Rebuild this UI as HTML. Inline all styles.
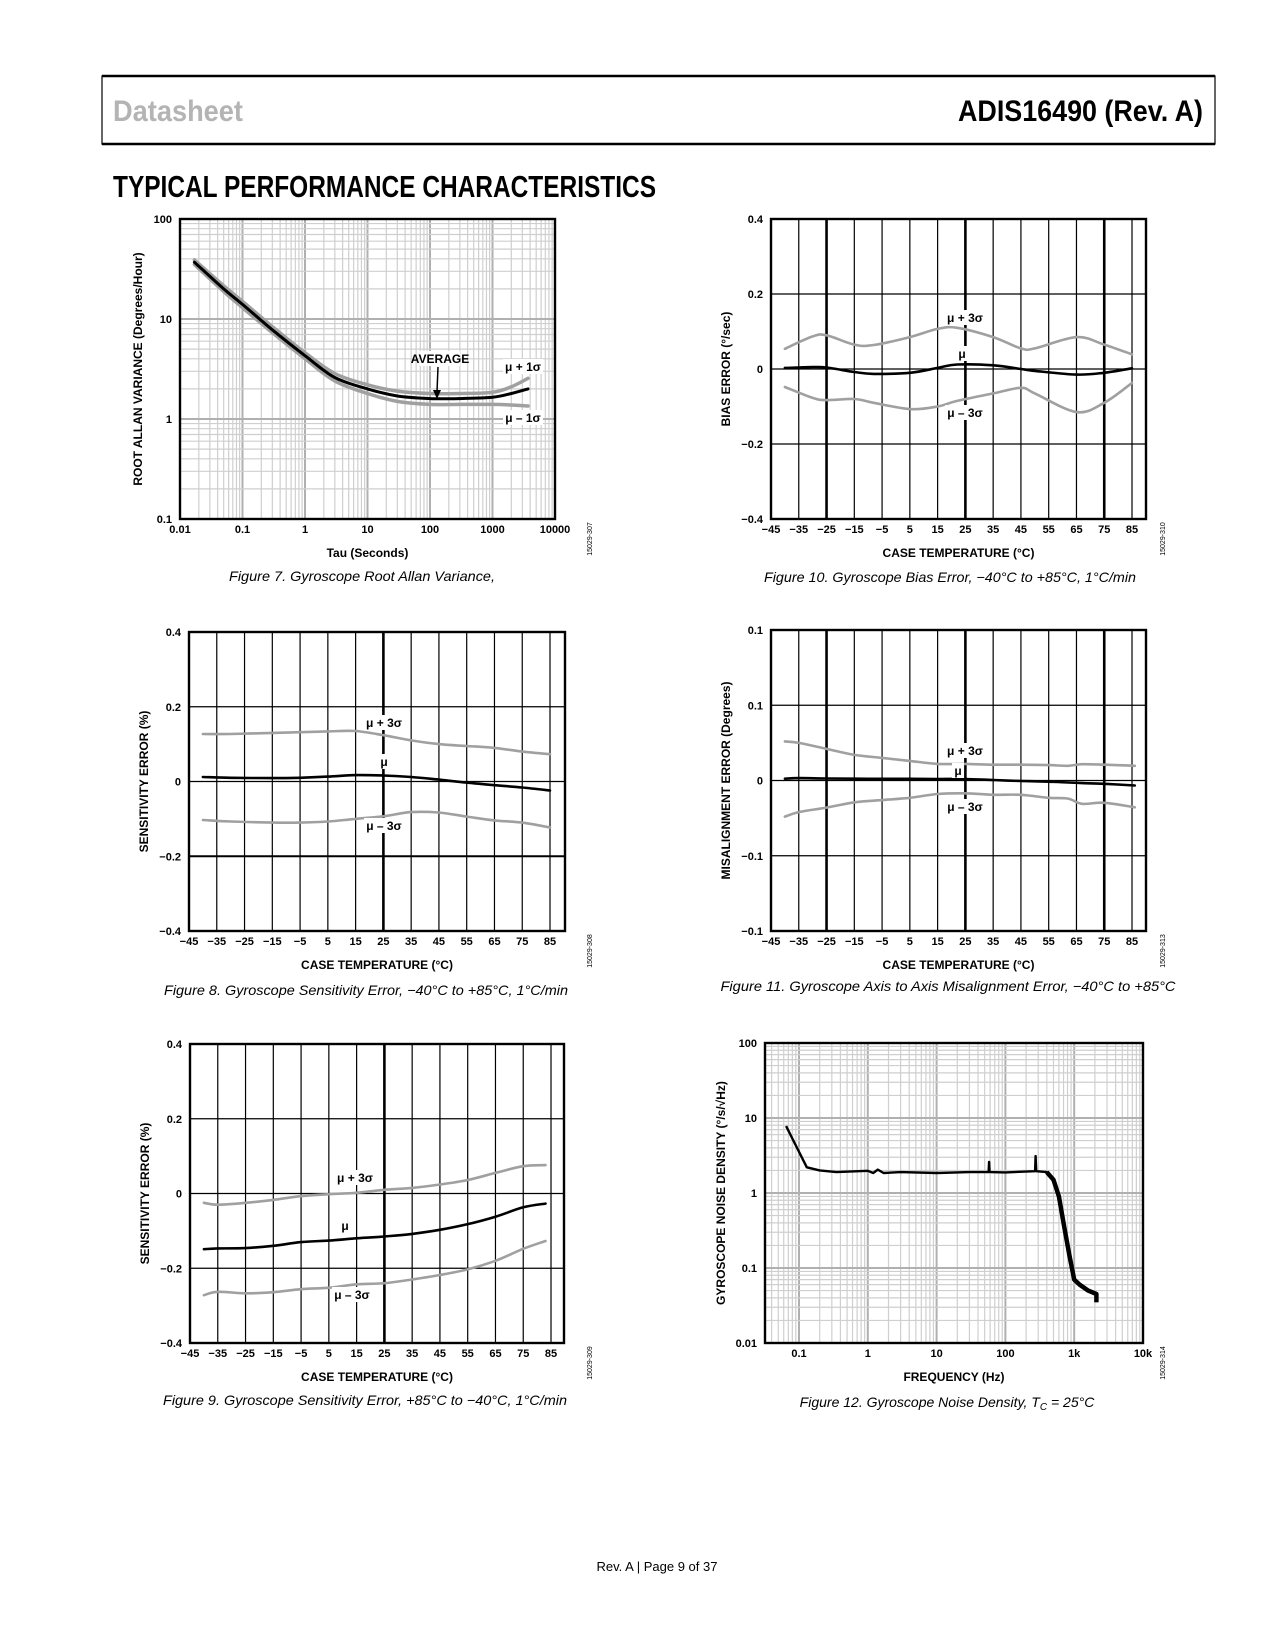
<!DOCTYPE html>
<html><head><meta charset="utf-8"><title>ADIS16490 Typical Performance Characteristics</title>
<style>
html,body{margin:0;padding:0;background:#fff;}
svg{display:block;}
text{font-family:"Liberation Sans",sans-serif;}
.tk{font-size:11px;font-weight:bold;fill:#000;}
.ax{font-size:12px;font-weight:bold;fill:#000;}
.cap{font-size:14px;font-style:italic;fill:#000;}
.lbl{font-size:12px;font-weight:bold;fill:#000;}
.id{font-size:7px;fill:#000;}
</style></head>
<body>
<svg id="page" xmlns="http://www.w3.org/2000/svg" width="1275" height="1650" viewBox="0 0 1275 1650">
<rect x="0" y="0" width="1275" height="1650" fill="#fff"/>
<g>
<rect x="102" y="76" width="1113" height="68" fill="none" stroke="#000" stroke-width="1.2"/>
<line x1="102" y1="76" x2="1215" y2="76" stroke="#000" stroke-width="2.5"/>
<line x1="102" y1="144" x2="1215" y2="144" stroke="#000" stroke-width="2.5"/>
<text x="113" y="121" font-family="'Liberation Sans Narrow','Liberation Sans',sans-serif" font-weight="bold" font-size="30" fill="#b4b4b4" textLength="130" lengthAdjust="spacingAndGlyphs">Datasheet</text>
<text x="1203" y="121" text-anchor="end" font-family="'Liberation Sans Narrow','Liberation Sans',sans-serif" font-weight="bold" font-size="30" fill="#000" textLength="245" lengthAdjust="spacingAndGlyphs">ADIS16490 (Rev. A)</text>
</g>
<text x="113" y="197" font-family="'Liberation Sans Narrow','Liberation Sans',sans-serif" font-weight="bold" font-size="31" fill="#000" textLength="543" lengthAdjust="spacingAndGlyphs">TYPICAL PERFORMANCE CHARACTERISTICS</text>
<text x="657" y="1571" text-anchor="middle" font-size="13" fill="#000">Rev. A | Page 9 of 37</text>
</svg>
<script>
// ---------- Figure 7 data (Root Allan variance) ----------
const f7Tau = [0.017, 0.05, 0.1, 0.3, 1, 3, 10, 30, 100, 300, 1000, 2000, 3700];
const f7Avg = [37, 20, 14, 7.8, 4.3, 2.6, 2.0, 1.7, 1.6, 1.6, 1.65, 1.8, 2.0];
const f7Plus = [39, 21.5, 15, 8.4, 4.6, 2.85, 2.2, 1.9, 1.8, 1.8, 1.85, 2.1, 2.55];
const f7Minus = [35, 18.8, 13, 7.3, 4.0, 2.4, 1.8, 1.5, 1.4, 1.4, 1.4, 1.38, 1.35];
const f7XTicks = ["0.01","0.1","1","10","100","1000","10000"];
const f7YTicks = ["0.1","1","10","100"];
// ---------- Figure 8 data ----------
const f8T = [-40,-30,-15,-5,5,15,25,35,45,55,65,75,85];
const f8Plus = [0.127,0.127,0.13,0.132,0.134,0.135,0.124,0.11,0.1,0.095,0.09,0.08,0.073];
const f8Mu = [0.012,0.01,0.009,0.01,0.013,0.017,0.016,0.012,0.005,-0.003,-0.01,-0.016,-0.024];
const f8Minus = [-0.103,-0.107,-0.11,-0.11,-0.107,-0.1,-0.093,-0.082,-0.083,-0.094,-0.104,-0.11,-0.123];
// ---------- Figure 9 data ----------
const f9T = [-40,-35,-25,-15,-5,5,15,25,35,45,55,65,75,83];
const f9Plus = [-0.025,-0.03,-0.025,-0.017,-0.007,-0.002,0.002,0.01,0.015,0.024,0.036,0.055,0.073,0.076];
const f9Mu = [-0.149,-0.147,-0.146,-0.14,-0.13,-0.126,-0.12,-0.115,-0.108,-0.097,-0.082,-0.062,-0.037,-0.027];
const f9Minus = [-0.272,-0.263,-0.267,-0.264,-0.256,-0.252,-0.243,-0.24,-0.23,-0.218,-0.203,-0.18,-0.148,-0.127];
// ---------- Figure 10 data ----------
const f10T = [-40,-30,-25,-15,-8,5,15,22,35,45,50,65,75,85];
const f10Plus = [0.054,0.087,0.09,0.065,0.064,0.085,0.107,0.11,0.085,0.055,0.055,0.085,0.065,0.039];
const f10Mu = [0.003,0.005,0.004,-0.008,-0.013,-0.01,0.003,0.012,0.01,0.0,-0.005,-0.015,-0.01,0.002];
const f10Minus = [-0.048,-0.077,-0.083,-0.08,-0.09,-0.107,-0.1,-0.085,-0.065,-0.05,-0.065,-0.115,-0.09,-0.037];
// ---------- Figure 11 data ----------
const f11T = [-40,-35,-25,-15,-5,5,15,25,35,45,55,62,67,75,86];
const f11Plus = [0.026,0.025,0.021,0.017,0.015,0.013,0.011,0.011,0.0105,0.0105,0.0102,0.0098,0.0108,0.0105,0.0098];
const f11Mu = [0.0012,0.0016,0.0013,0.0012,0.0011,0.0011,0.001,0.001,0.0003,-0.0003,-0.0008,-0.0013,-0.0017,-0.0022,-0.0033];
const f11Minus = [-0.024,-0.021,-0.018,-0.0145,-0.013,-0.0115,-0.009,-0.0085,-0.0095,-0.0095,-0.0115,-0.012,-0.0155,-0.0148,-0.0178];
// ---------- Figure 12 data ----------
const f12Freq = [0.065,0.13,0.2,0.35,1,1.2,1.4,1.7,3,10,30,57,58,59,100,270,275,280,400,500,600,700,850,1000,1200,1600,2100,2100];
const f12Noise = [7.8,2.2,2.0,1.9,1.98,1.85,2.05,1.85,1.9,1.85,1.9,1.9,2.6,1.9,1.88,1.95,3.1,1.95,1.9,1.5,0.9,0.4,0.15,0.07,0.06,0.05,0.045,0.035];
const f12XTicks = ["0.1","1","10","100","1k","10k"];
const f12YTicks = ["0.01","0.1","1","10","100"];
const linXTicks = ["\u221245","\u221235","\u221225","\u221215","\u22125","5","15","25","35","45","55","65","75","85"];

const NS = "http://www.w3.org/2000/svg";
const svg = document.getElementById("page");
function mk(tag, attrs, parent){ const e=document.createElementNS(NS,tag); for(const k in attrs) e.setAttribute(k,attrs[k]); (parent||svg).appendChild(e); return e; }
function txt(s, attrs, parent){ const e=mk("text",attrs,parent); e.textContent=s; return e; }
function smoothPath(pts){
  let d="M"+pts[0][0].toFixed(1)+","+pts[0][1].toFixed(1);
  for(let i=0;i<pts.length-1;i++){
    const p0=pts[i-1]||pts[i], p1=pts[i], p2=pts[i+1], p3=pts[i+2]||p2;
    const c1=[p1[0]+(p2[0]-p0[0])/6, p1[1]+(p2[1]-p0[1])/6];
    const c2=[p2[0]-(p3[0]-p1[0])/6, p2[1]-(p3[1]-p1[1])/6];
    d+=" C"+c1[0].toFixed(1)+","+c1[1].toFixed(1)+" "+c2[0].toFixed(1)+","+c2[1].toFixed(1)+" "+p2[0].toFixed(1)+","+p2[1].toFixed(1);
  }
  return d;
}
function muLabel(g, s, x, y, name){
  const w = s.length>2 ? 40 : 12;
  const r=mk("rect",{x:x-w/2,y:y-8,width:w,height:15,fill:"#fff"},g);
  
  
  const t=txt(s,{x:x,y:y+4,"text-anchor":"middle",class:"lbl"},g);
  
  
}

function linChart(c){
  const g=mk("g",{});
  
  
  const L=c.left, R=c.right, T=c.top, B=c.bottom;
  const xmax=-45+(R-L)/2.777;
  const sx=v=>L+(v+45)/(xmax+45)*(R-L);
  const sy=v=>T+(c.ymax-v)/(c.ymax-c.ymin)*(B-T);
  for(let t=-35;t<=85;t+=10){
    const thick=c.thickX.indexOf(t)>=0;
    const l=mk("line",{x1:sx(t),x2:sx(t),y1:T,y2:B,stroke:"#000","stroke-width":thick?2.6:1.2},g);
    
    
  }
  c.yVals.forEach((v,i)=>{
    const l=mk("line",{x1:L,x2:R,y1:sy(v),y2:sy(v),stroke:"#000","stroke-width":c.thickY.indexOf(v)>=0?2:1.2},g);
    
    
    const t=txt(c.yLabels[i],{x:L-8,y:sy(v)+4,"text-anchor":"end",class:"tk"},g);
    
    
  });
  const fr=mk("rect",{x:L,y:T,width:R-L,height:B-T,fill:"none",stroke:"#000","stroke-width":2.4},g);
  
  
  linXTicks.forEach((s,i)=>{
    const v=-45+i*10;
    const t=txt(s,{x:sx(v),y:B+14,"text-anchor":"middle",class:"tk"},g);
    
    
  });
  const series=[[c.plus,"#a0a0a0",2.6,"series-mu-plus-3sigma"],[c.minus,"#a0a0a0",2.6,"series-mu-minus-3sigma"],[c.mu,"#000",2.6,"series-mu"]];
  series.forEach(s=>{
    const pts=c.t.map((v,i)=>[sx(v),sy(s[0][i])]);
    const p=mk("path",{d:smoothPath(pts),fill:"none",stroke:s[1],"stroke-width":s[2],"stroke-linejoin":"round","stroke-linecap":"round"},g);
    
    
  });
  muLabel(g,"\u03bc + 3\u03c3",c.lp[0],c.lp[1],"label-mu-plus-3sigma");
  muLabel(g,"\u03bc",c.lm[0],c.lm[1],"label-mu");
  muLabel(g,"\u03bc \u2013 3\u03c3",c.ln[0],c.ln[1],"label-mu-minus-3sigma");
  const xt=txt("CASE TEMPERATURE (\u00b0C)",{x:(L+R)/2,y:B+38,"text-anchor":"middle",class:"ax"},g);
  
  
  const yx=L-41, yc=(T+B)/2;
  const yt=txt(c.ytitle,{x:yx,y:yc,"text-anchor":"middle",class:"ax",transform:"rotate(-90 "+yx+" "+yc+")"},g);
  
  
  idText(g,c.id,c.idx,B+20);
  caption(g,c.cap,c.capx,c.capy,c.capw);
}
function idText(g,s,x,y){
  const t=txt(s,{x:x,y:y,"text-anchor":"middle",class:"id",transform:"rotate(-90 "+x+" "+y+")"},g);
  
  
}
function caption(g,s,x,y,w){
  const t=txt(s,{x:x,y:y,"text-anchor":"middle",class:"cap",textLength:w,lengthAdjust:"spacingAndGlyphs"},g);
  
  
  return t;
}

function logChart(c){
  const g=mk("g",{});
  
  
  const L=c.left,R=c.right,T=c.top,B=c.bottom;
  const lx0=Math.log10(c.xmin), lx1=Math.log10(c.xmax), ly0=Math.log10(c.ymin), ly1=Math.log10(c.ymax);
  const sx=v=>L+(Math.log10(v)-lx0)/(lx1-lx0)*(R-L);
  const sy=v=>B-(Math.log10(v)-ly0)/(ly1-ly0)*(B-T);
  for(let d=Math.floor(lx0);d<=Math.ceil(lx1);d++){
    for(let k=1;k<10;k++){
      const v=k*Math.pow(10,d);
      if(v<c.xmin*1.0001||v>c.xmax*0.9999) continue;
      const l=mk("line",{x1:sx(v),x2:sx(v),y1:T,y2:B,stroke:k==1?"#b0b0b0":"#cfcfcf","stroke-width":k==1?2:1.2},g);
      
      
    }
  }
  for(let d=Math.floor(ly0);d<Math.ceil(ly1);d++){
    for(let k=1;k<10;k++){
      const v=k*Math.pow(10,d);
      if(v<=c.ymin*1.0001) continue;
      const l=mk("line",{x1:L,x2:R,y1:sy(v),y2:sy(v),stroke:k==1?"#b0b0b0":"#cfcfcf","stroke-width":k==1?2:1.2},g);
      
      
    }
  }
  const fr=mk("rect",{x:L,y:T,width:R-L,height:B-T,fill:"none",stroke:"#000","stroke-width":2.4},g);
  
  
  c.xTicks.forEach((s,i)=>{
    const v=c.xFirst*Math.pow(10,i);
    const t=txt(s,{x:sx(v),y:B+14,"text-anchor":"middle",class:"tk"},g);
    
    
  });
  c.yTicks.forEach((s,i)=>{
    const v=c.ymin*Math.pow(10,i);
    const t=txt(s,{x:L-8,y:sy(v)+4,"text-anchor":"end",class:"tk"},g);
    
    
  });
  const xt=txt(c.xtitle,{x:(L+R)/2,y:B+38,"text-anchor":"middle",class:"ax"},g);
  
  
  const yx=L-c.ytOff, yc=(T+B)/2;
  const yt=txt(c.ytitle,{x:yx,y:yc,"text-anchor":"middle",class:"ax",transform:"rotate(-90 "+yx+" "+yc+")"},g);
  
  
  idText(g,c.id,c.idx,B+20);
  if(c.cap) caption(g,c.cap,c.capx,c.capy,c.capw);
  return {g:g,sx:sx,sy:sy};
}

// Figure 7
const c7=logChart({name:"chart-root-allan-variance",left:180,right:555,top:219,bottom:519,xmin:0.01,xmax:10000,ymin:0.1,ymax:100,
  xTicks:f7XTicks,xFirst:0.01,yTicks:f7YTicks,xtitle:"Tau (Seconds)",ytitle:"ROOT ALLAN VARIANCE (Degrees/Hour)",ytOff:38,
  id:"15029-307",idx:592,cap:"Figure 7. Gyroscope Root Allan Variance,",capx:362,capy:581,capw:266});
[[f7Plus,"#a0a0a0",3.5,"series-mu-plus-1sigma"],[f7Minus,"#a0a0a0",3.5,"series-mu-minus-1sigma"],[f7Avg,"#000",3,"series-average"]].forEach(s=>{
  const pts=f7Tau.map((v,i)=>[c7.sx(v),c7.sy(s[0][i])]);
  const p=mk("path",{d:smoothPath(pts),fill:"none",stroke:s[1],"stroke-width":s[2],"stroke-linecap":"round"},c7.g);
  
  
});
muLabel(c7.g,"AVERAGE",440,359,"label-average");
{
  const a=mk("line",{x1:438,y1:367,x2:437,y2:392,stroke:"#000","stroke-width":1.5},c7.g);
  
  
  const h=mk("polygon",{points:"433,390 441,390 437,399",fill:"#000"},c7.g);
  
  
}
muLabel(c7.g,"\u03bc + 1\u03c3",523,367,"label-mu-plus-1sigma");
muLabel(c7.g,"\u03bc \u2013 1\u03c3",523,418,"label-mu-minus-1sigma");

linChart({name:"chart-sensitivity-error-heating",left:189,right:565,top:632,bottom:931,ymin:-0.4,ymax:0.4,
  yVals:[0.4,0.2,0,-0.2,-0.4],yLabels:["0.4","0.2","0","\u22120.2","\u22120.4"],thickX:[25],thickY:[-0.2],
  t:f8T,plus:f8Plus,mu:f8Mu,minus:f8Minus,lp:[384,723],lm:[384,762],ln:[384,826],
  ytitle:"SENSITIVITY ERROR (%)",id:"15029-308",idx:592,cap:"Figure 8. Gyroscope Sensitivity Error, \u221240\u00b0C to +85\u00b0C, 1\u00b0C/min",capx:366,capy:995,capw:404});
linChart({name:"chart-sensitivity-error-cooling",left:190,right:564,top:1044,bottom:1343,ymin:-0.4,ymax:0.4,
  yVals:[0.4,0.2,0,-0.2,-0.4],yLabels:["0.4","0.2","0","\u22120.2","\u22120.4"],thickX:[25],thickY:[],
  t:f9T,plus:f9Plus,mu:f9Mu,minus:f9Minus,lp:[355,1178],lm:[345,1226],ln:[352,1295],
  ytitle:"SENSITIVITY ERROR (%)",id:"15029-309",idx:592,cap:"Figure 9. Gyroscope Sensitivity Error, +85\u00b0C to \u221240\u00b0C, 1\u00b0C/min",capx:365,capy:1405,capw:404});
linChart({name:"chart-bias-error",left:771,right:1146,top:219,bottom:519,ymin:-0.4,ymax:0.4,
  yVals:[0.4,0.2,0,-0.2,-0.4],yLabels:["0.4","0.2","0","\u22120.2","\u22120.4"],thickX:[-25,25,75],thickY:[],
  t:f10T,plus:f10Plus,mu:f10Mu,minus:f10Minus,lp:[965,318],lm:[962,354],ln:[965,413],
  ytitle:"BIAS ERROR (\u00b0/sec)",id:"15029-310",idx:1165,cap:"Figure 10. Gyroscope Bias Error, \u221240\u00b0C to +85\u00b0C, 1\u00b0C/min",capx:950,capy:582,capw:372});
linChart({name:"chart-misalignment-error",left:771,right:1146,top:630,bottom:931,ymin:-0.1,ymax:0.1,
  yVals:[0.1,0.05,0,-0.05,-0.1],yLabels:["0.1","0.1","0","\u22120.1","\u22120.1"],thickX:[-25,25,75],thickY:[],
  t:f11T,plus:f11Plus,mu:f11Mu,minus:f11Minus,lp:[965,751],lm:[958,771],ln:[965,807],
  ytitle:"MISALIGNMENT ERROR (Degrees)",id:"15029-313",idx:1165,cap:"Figure 11. Gyroscope Axis to Axis Misalignment Error, \u221240\u00b0C to +85\u00b0C",capx:948,capy:991,capw:455});
const c12=logChart({name:"chart-noise-density",left:765,right:1143,top:1043,bottom:1343,xmin:Math.pow(10,-1.494),xmax:10000,ymin:0.01,ymax:100,
  xTicks:f12XTicks,xFirst:0.1,yTicks:f12YTicks,xtitle:"FREQUENCY (Hz)",ytitle:"GYROSCOPE NOISE DENSITY (\u00b0/s/\u221aHz)",ytOff:40,
  id:"15029-314",idx:1165,cap:null});
{
  const t=mk("text",{x:947,y:1407,"text-anchor":"middle",class:"cap"},c12.g);
  
  
  t.appendChild(document.createTextNode("Figure 12. Gyroscope Noise Density, T"));
  const sub=mk("tspan",{"font-size":"10","dy":"3"},t); sub.textContent="C";
  const rest=mk("tspan",{"dy":"-3"},t); rest.textContent=" = 25\u00b0C";
  const d="M"+f12Freq.map((v,i)=>c12.sx(v).toFixed(1)+","+c12.sy(f12Noise[i]).toFixed(1)).join(" L");
  const p=mk("path",{d:d,fill:"none",stroke:"#000","stroke-width":2.4,"stroke-linejoin":"round"},c12.g);
  
  
  const idx=f12Freq.findIndex(v=>v>=400);
  const d2="M"+f12Freq.slice(idx).map((v,i)=>c12.sx(v).toFixed(1)+","+c12.sy(f12Noise[idx+i]).toFixed(1)).join(" L");
  const p2=mk("path",{d:d2,fill:"none",stroke:"#000","stroke-width":4.5,"stroke-linejoin":"round"},c12.g);
  
  
}
</script>
</body></html>
